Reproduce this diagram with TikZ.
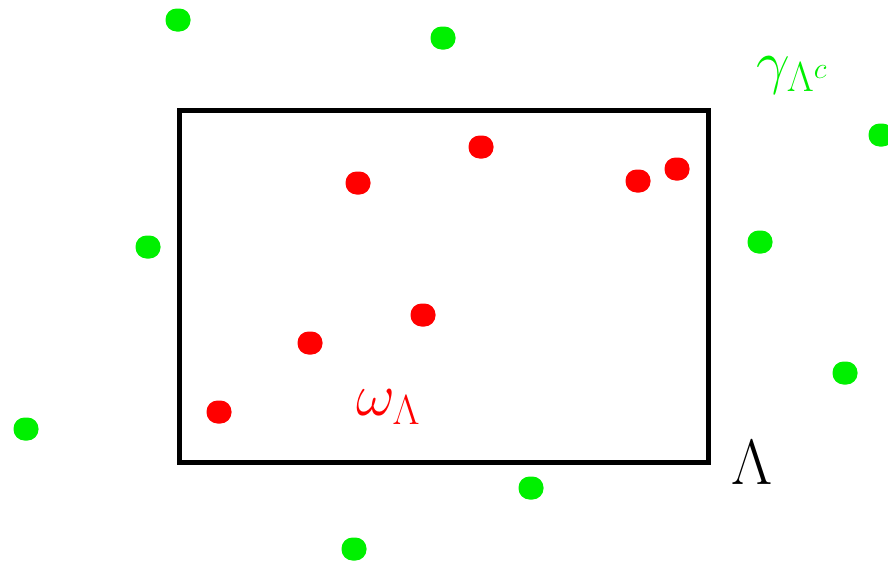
\RequirePackage{fix-cm}
\documentclass[tikz,border=0pt]{standalone}
\usepackage{amsmath}
\definecolor{dotgreen}{RGB}{0,240,0}
\definecolor{dotred}{RGB}{255,0,0}
\tikzset{
  gdot/.style={fill=dotgreen, draw=none, rounded corners=11pt, minimum width=25pt, minimum height=23pt, inner sep=0pt},
  rdot/.style={fill=dotred, draw=none, rounded corners=11pt, minimum width=25pt, minimum height=23pt, inner sep=0pt},
  lbl/.style={inner sep=0pt, font=\fontsize{60}{66}\selectfont}
}
\begin{document}
\begin{tikzpicture}[x=1pt,y=-1pt]
\useasboundingbox (0,0) rectangle (888,565);
% region
\coordinate (tl) at (179,110);
\coordinate (br) at (708,462);
\draw[line width=5pt] (tl) rectangle (br);
% green dots
\node[gdot] (g1) at (178,20) {};
\node[gdot] (g2) at (443,38) {};
\node[gdot] (g3) at (881,135) {};
\node[gdot] (g4) at (148,247) {};
\node[gdot] (g5) at (760,242) {};
\node[gdot] (g6) at (845,373) {};
\node[gdot] (g7) at (26,429) {};
\node[gdot] (g8) at (531,488) {};
\node[gdot] (g9) at (354,549) {};
% red dots
\node[rdot] (r1) at (481,147) {};
\node[rdot] (r2) at (358,183) {};
\node[rdot] (r3) at (638,181) {};
\node[rdot] (r4) at (677,169) {};
\node[rdot] (r5) at (423,315) {};
\node[rdot] (r6) at (310,343) {};
\node[rdot] (r7) at (219,412) {};
% labels
\node[lbl, text=dotgreen] (gl) at (792,75) {$\gamma_{\Lambda^c}$};
\node[lbl, text=dotred] (wl) at (388,407) {$\omega_{\Lambda}$};
\node[lbl, font=\fontsize{64}{70}\selectfont] (ll) at (752,463) {$\Lambda$};
\end{tikzpicture}
\end{document}
